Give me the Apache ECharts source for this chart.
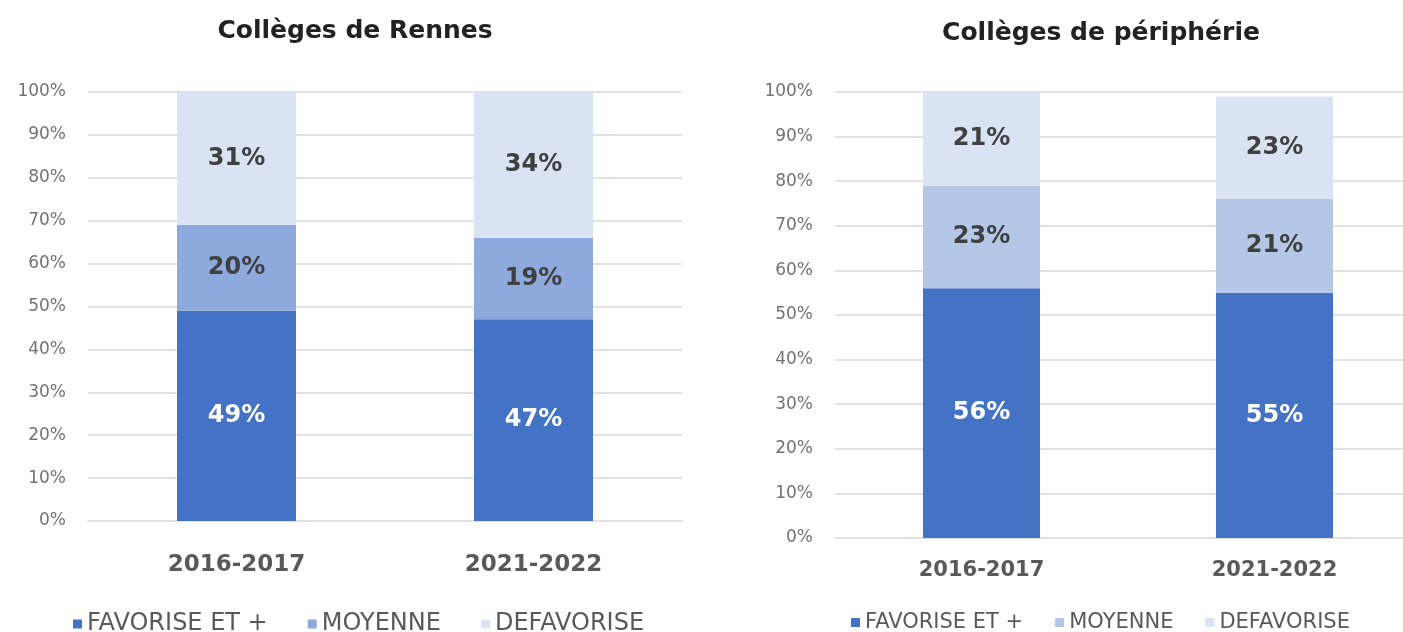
<!DOCTYPE html>
<html>
<head>
<meta charset="utf-8">
<script src="https://cdn.jsdelivr.net/npm/echarts@6/dist/echarts.min.js"></script>
<style>
  html, body { margin: 0; padding: 0; background: #ffffff; overflow: hidden; }
  /* the right plot area runs a little past the window edge */
  #chart { width: 1425px; height: 632px; }
</style>
</head>
<body>
<div id="chart"></div>
<script>
// School years shown on both panels
const years = ['2016-2017', '2021-2022'];
const seriesNames = ['FAVORISE ET +', 'MOYENNE', 'DEFAVORISE'];

// Collèges de Rennes (%)
const rennesFavorise = [49, 47];
const rennesMoyenne = [20, 19];
const rennesDefavorise = [31, 34];

// Collèges de périphérie (%)
const periFavorise = [56, 55];
const periMoyenne = [23, 21];
const periDefavorise = [21, 23];

const titles = ['Collèges de Rennes', 'Collèges de périphérie'];

const FONT = '"DejaVu Sans", "Liberation Sans", Arial, sans-serif';
const COL_FAV = '#4472C4';
const COL_MOY_R = '#8EA9DB';
const COL_MOY_P = '#B4C7E7';
const COL_DEF = '#DAE3F3';

function yAxisFor(gridIndex) {
  return {
    type: 'value', gridIndex: gridIndex, min: 0, max: 100, interval: 10,
    axisLine: { show: false }, axisTick: { show: false },
    axisLabel: { formatter: '{value}%', color: '#727272', fontSize: 17, fontFamily: FONT, margin: 22 },
    splitLine: { lineStyle: { color: '#e2e2e2', width: 2 } }
  };
}

function xAxisFor(gridIndex, fontSize, margin) {
  return {
    type: 'category', gridIndex: gridIndex, data: years,
    axisLine: { show: true, lineStyle: { color: '#e2e2e2', width: 2 } },
    axisTick: { show: false },
    axisLabel: { color: '#595959', fontSize: fontSize, fontWeight: 'bold', fontFamily: FONT, margin: margin }
  };
}

function barSeries(name, data, color, labelColor, axisIndex, stack, width) {
  return {
    name: name, type: 'bar', stack: stack, data: data,
    xAxisIndex: axisIndex, yAxisIndex: axisIndex,
    barWidth: width,
    itemStyle: { color: color },
    label: {
      show: true, position: 'inside', formatter: '{c}%',
      color: labelColor, fontSize: 24, fontWeight: 'bold', fontFamily: FONT
    }
  };
}

function legendFor(left, fontSize, gap, moyColor) {
  return {
    left: left, top: 607, orient: 'horizontal',
    icon: 'rect', itemWidth: 9, itemHeight: 9, itemGap: gap,
    textStyle: { color: '#595959', fontSize: fontSize, fontFamily: FONT },
    data: [
      { name: seriesNames[0], itemStyle: { color: COL_FAV } },
      { name: seriesNames[1], itemStyle: { color: moyColor } },
      { name: seriesNames[2], itemStyle: { color: COL_DEF } }
    ]
  };
}

const chart = echarts.init(document.getElementById('chart'), null, { renderer: 'canvas' });

chart.setOption({
  animation: false,
  backgroundColor: '#ffffff',
  title: [
    { text: titles[0], left: 350, top: 14, textAlign: 'center',
      textStyle: { fontSize: 25, fontWeight: 'bold', color: '#222222', fontFamily: FONT } },
    { text: titles[1], left: 1096, top: 16, textAlign: 'center',
      textStyle: { fontSize: 25, fontWeight: 'bold', color: '#222222', fontFamily: FONT } }
  ],
  legend: [
    legendFor(68, 24, 40, COL_MOY_R),
    legendFor(846, 21, 32, COL_MOY_P)
  ],
  grid: [
    { left: 88, top: 92, width: 594, height: 429 },
    { left: 835, top: 92, width: 586, height: 446 }
  ],
  xAxis: [xAxisFor(0, 23, 33), xAxisFor(1, 21, 22)],
  yAxis: [yAxisFor(0), yAxisFor(1)],
  series: [
    barSeries(seriesNames[0], rennesFavorise, COL_FAV, '#ffffff', 0, 'r', 119),
    barSeries(seriesNames[1], rennesMoyenne, COL_MOY_R, '#404040', 0, 'r', 119),
    barSeries(seriesNames[2], rennesDefavorise, COL_DEF, '#404040', 0, 'r', 119),
    barSeries(seriesNames[0], periFavorise, COL_FAV, '#ffffff', 1, 'p', 117),
    barSeries(seriesNames[1], periMoyenne, COL_MOY_P, '#404040', 1, 'p', 117),
    barSeries(seriesNames[2], periDefavorise, COL_DEF, '#404040', 1, 'p', 117)
  ]
});
</script>
</body>
</html>
